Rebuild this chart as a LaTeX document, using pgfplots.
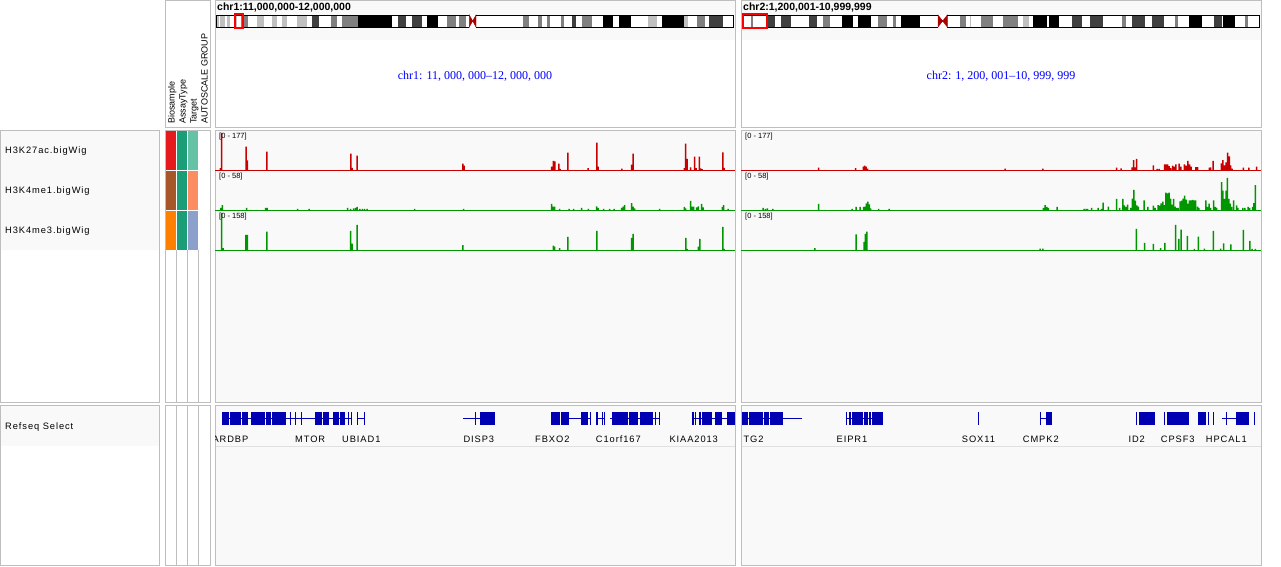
\documentclass[border=0pt]{standalone}
\usepackage{fontspec}
\setmainfont{Liberation Sans}
\newfontfamily\igvfont[LetterSpace=10]{Liberation Sans}
\newfontfamily\locfont{Liberation Serif}
\usepackage{pgfplots}
\pgfplotsset{compat=1.18}

\definecolor{brd}{RGB}{190,190,190}
\definecolor{bgl}{RGB}{249,249,249}
\definecolor{trkred}{RGB}{200,0,0}
\definecolor{trkgrn}{RGB}{0,150,0}
\definecolor{geneblue}{RGB}{0,0,178}
\definecolor{lgray}{RGB}{192,192,192}
\definecolor{mgray}{RGB}{128,128,128}
\definecolor{dgray}{RGB}{64,64,64}
\definecolor{cenred}{RGB}{170,0,0}
\definecolor{bsA}{RGB}{228,26,28}
\definecolor{bsB}{RGB}{166,86,40}
\definecolor{bsC}{RGB}{255,127,0}
\definecolor{asy}{RGB}{27,158,119}
\definecolor{tgA}{RGB}{102,194,165}
\definecolor{tgB}{RGB}{252,141,98}
\definecolor{tgC}{RGB}{141,160,203}

\pgfplotsset{
  trk/.style={scale only axis, hide axis, anchor=south west, width=520pt, height=39pt,
    xmin=0, xmax=520, ymin=0, clip=false},
  bars/.style={ybar, bar width=1.5, bar shift=0pt, draw=none, fill=#1},
  ideo/.style={scale only axis, hide axis, anchor=north west, width=520pt, height=12pt,
    ymin=0, ymax=1, clip=false},
  band/.style={no marks, line width=12pt, color=#1, unbounded coords=jump},
  genes/.style={scale only axis, hide axis, anchor=north west, width=520pt, height=41pt,
    ymin=405, ymax=446, y dir=reverse},
  exon/.style={no marks, line width=13pt, geneblue, unbounded coords=jump},
  intron/.style={no marks, line width=1pt, geneblue, unbounded coords=jump},
}
\tikzset{
  rng/.style={anchor=north west, inner sep=0pt, font=\fontsize{7.5}{8}\selectfont},
  glab/.style={anchor=west, inner sep=0pt, font=\igvfont\fontsize{9.3}{10}\selectfont},
}

\begin{document}
\begin{tikzpicture}
\path[use as bounding box, fill=white] (0pt,0pt) rectangle (1281pt,-566pt);

\begin{scope}[x=1pt, y=-1pt]
  % header row
  \draw[brd] (165.5,0.5) rectangle (210.5,127.5);
  \foreach \xa/\xb in {215.5/735.5, 741.5/1261.5} {
    \fill[bgl] (\xa,0.5) rectangle (\xb,40);
    \draw[brd] (\xa,0.5) rectangle (\xb,127.5);
  }
  \node[rotate=90, anchor=base west, inner sep=0pt, font=\fontsize{9}{10}\selectfont] at (174.5,124) {Biosample};
  \node[rotate=90, anchor=base west, inner sep=0pt, font=\fontsize{9}{10}\selectfont] at (185.5,124) {AssayType};
  \node[rotate=90, anchor=base west, inner sep=0pt, font=\fontsize{9}{10}\selectfont] at (196.5,124) {Target};
  \node[rotate=90, anchor=base west, inner sep=0pt, font=\fontsize{9}{10}\selectfont] at (207.5,124) {AUTOSCALE GROUP};
  \node[anchor=base west, inner sep=0pt, font=\bfseries\fontsize{10.5}{12}\selectfont] at (217,10.5) {chr1:11,000,000-12,000,000};
  \node[anchor=base west, inner sep=0pt, font=\bfseries\fontsize{10.5}{12}\selectfont] at (743,10.5) {chr2:1,200,001-10,999,999};
  \node[text=blue, font=\locfont\fontsize{12}{13}\selectfont] at (475,76) {chr1: 11, 000, 000–12, 000, 000};
  \node[text=blue, font=\locfont\fontsize{12}{13}\selectfont] at (1001,76) {chr2: 1, 200, 001–10, 999, 999};

  % data rows
  \fill[bgl] (0.5,130.5) rectangle (159.5,250);
  \draw[brd] (0.5,130.5) rectangle (159.5,402.5);
  \fill[bsA] (166,131) rectangle (176,170);
  \fill[bsB] (166,171) rectangle (176,210);
  \fill[bsC] (166,211) rectangle (176,250);
  \fill[asy] (177,131) rectangle (187,170);
  \fill[asy] (177,171) rectangle (187,210);
  \fill[asy] (177,211) rectangle (187,250);
  \fill[tgA] (188,131) rectangle (198,170);
  \fill[tgB] (188,171) rectangle (198,210);
  \fill[tgC] (188,211) rectangle (198,250);
  \draw[brd] (165.5,130.5) rectangle (210.5,402.5);
  \foreach \xc in {176.5,187.5,198.5} \draw[brd] (\xc,250) -- (\xc,402.5);
  \foreach \xa/\xb in {215.5/735.5, 741.5/1261.5} {
    \fill[bgl] (\xa,130.5) rectangle (\xb,402.5);
    \draw[brd] (\xa,130.5) rectangle (\xb,402.5);
  }
  \node[glab] at (5,151) {H3K27ac.bigWig};
  \node[glab] at (5,191) {H3K4me1.bigWig};
  \node[glab] at (5,231) {H3K4me3.bigWig};

  % feature rows
  \fill[bgl] (0.5,405.5) rectangle (159.5,446);
  \draw[brd] (0.5,405.5) rectangle (159.5,565.5);
  \draw[brd] (165.5,405.5) rectangle (210.5,565.5);
  \foreach \xc in {176.5,187.5,198.5} \draw[brd] (\xc,405.5) -- (\xc,565.5);
  \foreach \xa/\xb in {215.5/735.5, 741.5/1261.5} {
    \fill[bgl] (\xa,405.5) rectangle (\xb,565.5);
    \draw[black!12] (\xa,446.5) -- (\xb,446.5);
    \draw[brd] (\xa,405.5) rectangle (\xb,565.5);
  }
  \node[glab] at (5,427) {Refseq Select};
\end{scope}

% ---------- ideograms ----------
\begin{axis}[ideo, at={(215pt,-15pt)}, xmin=215, xmax=735]
  \addplot[band=white] coordinates {(216,0.5)(733.3,0.5)};
  \addplot[band=lgray] coordinates {(216,0.5)(219,0.5) (nan,nan) (220,0.5)(225,0.5) (nan,nan)
    (227,0.5)(230,0.5) (nan,nan) (235,0.5)(237,0.5) (nan,nan) (256.7,0.5)(264,0.5) (nan,nan)
    (272.3,0.5)(276.7,0.5) (nan,nan) (282,0.5)(286.7,0.5) (nan,nan) (297.3,0.5)(306.7,0.5) (nan,nan)
    (647.7,0.5)(656.7,0.5) (nan,nan) (684,0.5)(688.3,0.5)};
  \addplot[band=mgray] coordinates {(241,0.5)(248.3,0.5) (nan,nan) (331,0.5)(336.7,0.5) (nan,nan)
    (341.7,0.5)(358.3,0.5) (nan,nan) (447.3,0.5)(456,0.5) (nan,nan) (459.3,0.5)(466,0.5) (nan,nan)
    (523.3,0.5)(529.3,0.5) (nan,nan) (538.3,0.5)(542.3,0.5) (nan,nan) (547.3,0.5)(550,0.5) (nan,nan)
    (560.7,0.5)(564,0.5) (nan,nan) (582.3,0.5)(591.7,0.5) (nan,nan) (696.7,0.5)(705.3,0.5)};
  \addplot[band=dgray] coordinates {(311.7,0.5)(319,0.5) (nan,nan) (398.3,0.5)(406,0.5) (nan,nan)
    (411.7,0.5)(422.3,0.5) (nan,nan) (571.7,0.5)(576,0.5) (nan,nan) (708.7,0.5)(723.3,0.5)};
  \addplot[band=black] coordinates {(358.3,0.5)(391.7,0.5) (nan,nan) (427.3,0.5)(438,0.5) (nan,nan)
    (603.3,0.5)(613.3,0.5) (nan,nan) (619,0.5)(630.7,0.5) (nan,nan) (662.3,0.5)(684,0.5)};
  \addplot[band=white] coordinates {(469.3,0.5)(476,0.5)};
  \addplot[fill=cenred, draw=cenred] coordinates {(469.3,0)(476,1)(476,0)(469.3,1)} -- cycle;
  \draw[black] (axis cs:469.3,0) -- (axis cs:216,0) -- (axis cs:216,1) -- (axis cs:469.3,1);
  \draw[black] (axis cs:476,0) -- (axis cs:733.3,0) -- (axis cs:733.3,1) -- (axis cs:476,1);
  \draw[red, line width=2pt] (axis cs:234.5,-0.1) rectangle (axis cs:243,1.1);
\end{axis}

\begin{axis}[ideo, at={(741pt,-15pt)}, xmin=741, xmax=1261]
  \addplot[band=white] coordinates {(743,0.5)(1259.3,0.5)};
  \addplot[band=lgray] coordinates {(969.7,0.5)(971.3,0.5) (nan,nan) (1023.3,0.5)(1029.3,0.5)};
  \addplot[band=mgray] coordinates {(750.7,0.5)(753.3,0.5) (nan,nan) (823,0.5)(829.7,0.5) (nan,nan)
    (878,0.5)(887,0.5) (nan,nan) (893,0.5)(896.3,0.5) (nan,nan) (959.7,0.5)(966.3,0.5) (nan,nan)
    (981.3,0.5)(993,0.5) (nan,nan) (1002.7,0.5)(1018.3,0.5) (nan,nan) (1121.7,0.5)(1126,0.5) (nan,nan)
    (1175,0.5)(1178.3,0.5) (nan,nan) (1245,0.5)(1248.3,0.5)};
  \addplot[band=dgray] coordinates {(767.3,0.5)(775.3,0.5) (nan,nan) (780.7,0.5)(791.3,0.5) (nan,nan)
    (809.3,0.5)(817.3,0.5) (nan,nan) (1071.7,0.5)(1081.7,0.5) (nan,nan) (1090,0.5)(1103.3,0.5) (nan,nan)
    (1131.7,0.5)(1145,0.5) (nan,nan) (1151.7,0.5)(1164,0.5) (nan,nan) (1214.3,0.5)(1221.7,0.5)};
  \addplot[band=black] coordinates {(842.3,0.5)(853,0.5) (nan,nan) (858,0.5)(871.3,0.5) (nan,nan)
    (901.3,0.5)(919.7,0.5) (nan,nan) (1033.3,0.5)(1046.7,0.5) (nan,nan) (1049.3,0.5)(1059.3,0.5) (nan,nan)
    (1189.3,0.5)(1201.7,0.5) (nan,nan) (1223.3,0.5)(1235,0.5)};
  \addplot[fill=cenred, draw=cenred] coordinates {(938,0)(947.3,1)(947.3,0)(938,1)} -- cycle;
  \draw[black] (axis cs:938,0) -- (axis cs:743,0) -- (axis cs:743,1) -- (axis cs:938,1);
  \draw[black] (axis cs:947.3,0) -- (axis cs:1259.3,0) -- (axis cs:1259.3,1) -- (axis cs:947.3,1);
  \draw[red, line width=2pt] (axis cs:743,-0.1) rectangle (axis cs:767,1.1);
\end{axis}

% ---------- chr1 tracks ----------
\begin{axis}[trk, at={(215pt,-170pt)}, ymax=177]
  \addplot[bars=trkred] coordinates {(5.3,8) (6.7,169) (31.0,106) (32.4,44) (51.8,83) (135.8,74)
    (137.2,10) (142.2,65) (247.8,29) (249.2,20) (336.7,15) (338.3,42) (339.8,39) (343.8,29)
    (345.2,5) (352.8,79) (373,8) (381.8,124) (383.2,15) (406.8,6) (416.7,24) (418.1,74)
    (469.3,8) (470.7,120) (472.1,51) (475.7,12) (479.7,61) (481.2,8) (484.3,61) (485.7,7)
    (487.1,4) (507.8,80) (509.2,10)};
  \draw[trkred] (axis cs:0,0) -- (axis cs:520,0);
  \node[rng] at (axis cs:4,168) {[0 - 177]};
\end{axis}
\begin{axis}[trk, at={(215pt,-210pt)}, ymax=58]
  \addplot[bars=trkgrn] coordinates {(5.8,3) (7.3,7.4) (31.7,3) (50.7,3) (52.1,3) (82.7,1.5)
    (94,1.5) (132.7,3) (135.5,1.5) (138.7,2.5) (140.7,3) (142.1,4.5) (144.8,1.5) (147.3,1.5)
    (149.5,1.5) (152.2,1.5) (199.5,1.5) (248.7,1.5) (336.7,9) (338.2,5) (339.7,5) (344.7,1.5)
    (354,1.5) (358.7,1.5) (366.7,3) (373.3,1.5) (381.7,5.5) (383.2,3) (388.7,1.5) (394.7,1.5)
    (399.2,1.5) (406.5,3) (408,5) (409.5,7.4) (416.7,10.4) (418.1,5) (419.5,2.5) (444.7,1.5)
    (469.3,4.5) (470.7,2.5) (475.7,13.4) (477.2,5) (478.7,5) (481.7,4) (483.3,5.5) (486.7,9)
    (488.1,4) (507.3,4.5) (508.7,7.4) (513,1.5)};
  \draw[trkgrn] (axis cs:0,0) -- (axis cs:520,0);
  \node[rng] at (axis cs:4,55.2) {[0 - 58]};
\end{axis}
\begin{axis}[trk, at={(215pt,-250pt)}, ymax=158]
  \addplot[bars=trkgrn] coordinates {(6.7,150) (8.1,8) (30.8,61) (32.3,61) (51.8,74) (135.5,78)
    (137,26) (142.2,102) (247.8,20) (338.3,18) (339.7,14) (344.5,8) (352.8,53) (381.8,78)
    (416.7,49) (418.1,65) (470.8,49) (472.2,5) (483.4,14) (484.8,45) (507.8,94) (509.2,5)};
  \draw[trkgrn] (axis cs:0,0) -- (axis cs:520,0);
  \node[rng] at (axis cs:4,150) {[0 - 158]};
\end{axis}

% ---------- chr2 tracks ----------
\begin{axis}[trk, at={(741pt,-170pt)}, ymax=177]
  \addplot[bars=trkred] coordinates {(77.6,10.6) (114.7,9) (122.3,15) (123.7,20) (125.1,15)
    (126.7,6) (264.1,6) (301.8,6) (375.6,10.6) (380.2,7) (391.2,12) (392.7,45) (394.1,12)
    (395.7,51) (412.4,21) (416,5) (418.1,5) (423.6,26) (425.1,26) (426.5,26) (428.1,18)
    (429.6,9) (431.7,20) (433.3,15) (434.8,26) (438.2,29) (439.8,15) (443.4,26) (445.1,20)
    (446.9,41) (448.6,26) (450,15) (454.9,13) (456.6,13) (468.3,11) (469.7,12) (472,41)
    (480.3,30) (481.9,45) (483.5,21) (485,35) (486.6,79) (488.4,62) (489.7,21) (491.1,6)
    (502.3,11) (507.8,11) (515.5,15)};
  \draw[trkred] (axis cs:0,0) -- (axis cs:520,0);
  \node[rng] at (axis cs:4,168) {[0 - 177]};
\end{axis}
\begin{axis}[trk, at={(741pt,-210pt)}, ymax=58]
  \addplot[bars=trkgrn] coordinates {(22.2,3) (24.4,1.5) (26.3,2.5) (31.9,1.5) (77.6,9)
    (111,1.5) (115,4.5) (119.2,4.5) (122.6,4.5) (124.1,5) (125.4,10) (126.8,12.4) (128.3,8.4)
    (129.6,2.5) (137.5,1.5) (148.2,1.5) (302.3,3) (304,7.4) (305.8,4.5) (307.3,3) (316,4.5)
    (343.2,1.5) (345,1.5) (346.5,1.5) (350.5,3) (357.2,3) (360.3,1.5) (362.2,11) (367.4,5)
    (375.6,16.4) (378.7,3) (381.9,16.4) (383.4,7) (385,4.5) (386.6,8) (389.9,3) (391.3,17)
    (392.8,30) (394.4,14) (395.9,7) (397.4,5) (403,14.4) (406.8,4.5) (412.4,6.5) (414,3)
    (417.1,7.4) (418.6,6.5) (420.2,10) (421.8,12.4) (423.4,7.4) (424.9,25.8) (426.5,24.8)
    (428.1,25.8) (429.6,16.8) (431,8) (432.6,16.4) (434,5) (435.6,3) (437.2,3) (439,13)
    (440.6,14) (442.2,17) (443.7,21.3) (445.3,15.4) (446.9,9.4) (448.4,14.4) (450,14.4)
    (451.6,14.9) (453.1,14.4) (454.7,14.4) (456.5,5) (457.8,3) (464.9,14.4) (466.4,4.5)
    (468.1,9.4) (469.7,3) (472.5,14.4) (474.4,4.5) (475.6,3) (480.5,41.6) (481.9,29)
    (483.5,16.4) (485,29) (486.4,47.6) (487.8,16.4) (489.2,9.4) (490.6,4.5) (492.7,14.4)
    (495.5,7) (496.8,3) (501.8,3) (503.8,3) (507.2,4.5) (508.6,3) (511.5,4.5) (512.9,10.4)
    (514.3,37)};
  \draw[trkgrn] (axis cs:0,0) -- (axis cs:520,0);
  \node[rng] at (axis cs:4,55.2) {[0 - 58]};
\end{axis}
\begin{axis}[trk, at={(741pt,-250pt)}, ymax=158]
  \addplot[bars=trkgrn] coordinates {(73.9,8) (115,63) (123,33) (124.4,65) (125.8,74) (299,6)
    (301.8,6) (395.3,86) (403.5,29) (412.4,25) (419.7,8) (423.9,29) (434.5,102) (437.8,45)
    (440.1,83) (446.3,57) (453.4,5) (457.3,54) (463.4,6) (472.3,78) (479.5,6) (482.6,27)
    (489.9,23) (502.3,82) (508.9,37) (511.2,5) (514.3,5)};
  \draw[trkgrn] (axis cs:0,0) -- (axis cs:520,0);
  \node[rng] at (axis cs:4,150) {[0 - 158]};
\end{axis}

% ---------- Refseq genes ----------
\begin{axis}[genes, at={(215pt,-405pt)}, xmin=215, xmax=735]
  \addplot[intron] coordinates {(222,418)(352,418) (nan,nan) (357,418)(365,418) (nan,nan)
    (463.3,418)(495,418) (nan,nan) (569,418)(590.5,418) (nan,nan) (596,418)(605,418) (nan,nan)
    (610,418)(659.5,418) (nan,nan) (691.7,418)(735,418)};
  \addplot[exon] coordinates {(222,418)(228.5,418) (nan,nan) (229.5,418)(240.5,418) (nan,nan)
    (242,418)(248,418) (nan,nan) (250.5,418)(264.5,418) (nan,nan) (265.5,418)(270.5,418) (nan,nan)
    (271.5,418)(286,418) (nan,nan) (289.5,418)(290.5,418) (nan,nan) (295,418)(296,418) (nan,nan)
    (300.5,418)(301.5,418) (nan,nan) (314.5,418)(322,418) (nan,nan) (323,418)(328.5,418) (nan,nan)
    (333,418)(339,418) (nan,nan) (340,418)(345,418) (nan,nan) (347.5,418)(348.5,418) (nan,nan)
    (351,418)(352,418) (nan,nan) (357,418)(358.2,418) (nan,nan) (364,418)(365.2,418) (nan,nan)
    (474.5,418)(475.5,418) (nan,nan) (480,418)(495,418) (nan,nan) (551,418)(559.5,418) (nan,nan)
    (560.5,418)(569.3,418) (nan,nan) (581,418)(587.5,418) (nan,nan) (589.5,418)(590.5,418) (nan,nan)
    (596,418)(597.5,418) (nan,nan) (601.5,418)(602.5,418) (nan,nan) (604,418)(605,418) (nan,nan)
    (611.7,418)(628,418) (nan,nan) (629,418)(638.3,418) (nan,nan) (640,418)(653.3,418) (nan,nan)
    (654.5,418)(655.5,418) (nan,nan) (658.8,418)(659.8,418) (nan,nan) (691.7,418)(693.5,418) (nan,nan)
    (694.5,418)(696,418) (nan,nan) (699.3,418)(701,418) (nan,nan) (701.7,418)(711.7,418) (nan,nan)
    (715,418)(721.7,418) (nan,nan) (726.7,418)(735,418)};
  \node[glab, anchor=east] at (axis cs:248.5,439) {TARDBP};
  \node[glab] at (axis cs:295,439) {MTOR};
  \node[glab] at (axis cs:342,439) {UBIAD1};
  \node[glab] at (axis cs:463.3,439) {DISP3};
  \node[glab] at (axis cs:535,439) {FBXO2};
  \node[glab] at (axis cs:595.7,439) {C1orf167};
  \node[glab] at (axis cs:669.3,439) {KIAA2013};
\end{axis}

\begin{axis}[genes, at={(741pt,-405pt)}, xmin=741, xmax=1261]
  \addplot[intron] coordinates {(741.7,418)(801.7,418) (nan,nan) (845.7,418)(882.7,418) (nan,nan)
    (1040,418)(1051.7,418) (nan,nan) (1221.7,418)(1236.7,418)};
  \addplot[exon] coordinates {(741.7,418)(748.3,418) (nan,nan) (749.3,418)(762.7,418) (nan,nan)
    (764.3,418)(769.3,418) (nan,nan) (770.3,418)(783.3,418) (nan,nan) (845.7,418)(846.7,418) (nan,nan)
    (849.3,418)(850.7,418) (nan,nan) (851.7,418)(863.3,418) (nan,nan) (864,418)(866.7,418) (nan,nan)
    (867.3,418)(868.3,418) (nan,nan) (869.3,418)(871,418) (nan,nan) (871.7,418)(882.7,418) (nan,nan)
    (978,418)(979,418) (nan,nan) (1040,418)(1041,418) (nan,nan) (1045.7,418)(1051.7,418) (nan,nan)
    (1136,418)(1137.3,418) (nan,nan) (1138.5,418)(1155,418) (nan,nan) (1164,418)(1165.3,418) (nan,nan)
    (1166.5,418)(1189,418) (nan,nan) (1198.3,418)(1206,418) (nan,nan) (1207.5,418)(1209,418) (nan,nan)
    (1213,418)(1214,418) (nan,nan) (1226.2,418)(1227.2,418) (nan,nan) (1236,418)(1249.3,418) (nan,nan)
    (1254,418)(1255,418)};
  \node[glab] at (axis cs:743.3,439) {TG2};
  \node[glab] at (axis cs:836.5,439) {EIPR1};
  \node[glab] at (axis cs:961.7,439) {SOX11};
  \node[glab] at (axis cs:1022.7,439) {CMPK2};
  \node[glab] at (axis cs:1128.3,439) {ID2};
  \node[glab] at (axis cs:1160.7,439) {CPSF3};
  \node[glab] at (axis cs:1205.7,439) {HPCAL1};
\end{axis}
\end{tikzpicture}
\end{document}
